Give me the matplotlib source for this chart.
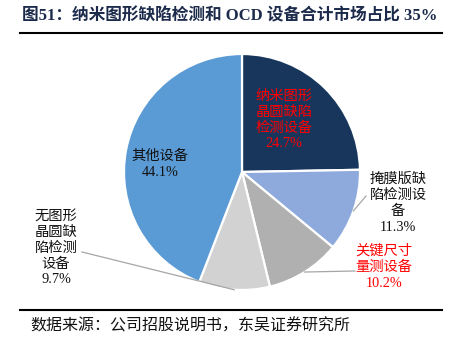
import numpy as np
import matplotlib

matplotlib.use("Agg")
import matplotlib.pyplot as plt
from matplotlib.lines import Line2D

plt.rcParams["font.family"] = ["Liberation Serif", "Noto Sans CJK SC", "DejaVu Sans"]

# data
labels = ["纳米图形\n晶圆缺陷\n检测设备", "掩膜版缺\n陷检测设\n备", "关键尺寸\n量测设备",
          "无图形\n晶圆缺\n陷检测\n设备", "其他设备"]
shares = [24.7, 11.3, 10.2, 9.7, 44.1]
colors = ["#18365c", "#8eaadc", "#b0b0b0", "#d3d2d2", "#5b9bd5"]
label_colors = ["#ff0000", "#111111", "#ff0000", "#111111", "#111111"]

TITLE = "图51：纳米图形缺陷检测和 OCD 设备合计市场占比 35%"
SOURCE = "数据来源：公司招股说明书，东吴证券研究所"

W, H = 454, 349
fig = plt.figure(figsize=(W / 100, H / 100), dpi=100)


def fx(px):
    return px / W


def fy(py):
    return 1 - py / H


# pie axes: centre (242,172), radius 118 px
cx, cy, r = 242, 172, 118
ax = fig.add_axes([fx(cx - r), fy(cy + r), 2 * r / W, 2 * r / H])
wedges, _ = ax.pie(shares, colors=colors, startangle=90, counterclock=False,
                   radius=1.0, wedgeprops=dict(edgecolor="white", linewidth=1.6))
ax.set_xlim(-1, 1)
ax.set_ylim(-1, 1)
ax.set_aspect("equal")
ax.axis("off")

# label centres (pixel), leader attach (pixel) or None
label_pos = [(284, 120), (398, 203), (384, 267), (56, 248), (160, 164)]
leader_end = [None, (366, 196), (355, 271), (82, 252), None]

for w, lab, pct, col, pos, le in zip(wedges, labels, shares, label_colors,
                                     label_pos, leader_end):
    txt = f"{lab}\n{pct:.1f}%"
    fig.text(fx(pos[0]), fy(pos[1]), txt, ha="center", va="center",
             fontsize=10.3, color=col, linespacing=1.28)
    if le is not None:
        ang = np.deg2rad((w.theta1 + w.theta2) / 2)
        ex, ey = np.cos(ang), np.sin(ang)
        tx = (le[0] - cx) / r
        ty = -(le[1] - cy) / r
        ax.plot([ex, tx], [ey, ty], color="#a6a6a6", lw=0.9, clip_on=False)

fig.text(fx(22), fy(16), TITLE, ha="left", va="center", fontsize=12,
         fontweight="bold", color="#1c2b4b")
fig.add_artist(Line2D([fx(20), fx(442)], [fy(33), fy(33)], color="black", lw=1.5))
fig.add_artist(Line2D([fx(20), fx(442)], [fy(310), fy(310)], color="black", lw=1.5))
fig.text(fx(30), fy(327), SOURCE, ha="left", va="center", fontsize=11.5, color="#111111")

fig.savefig("out.png", dpi=100)
